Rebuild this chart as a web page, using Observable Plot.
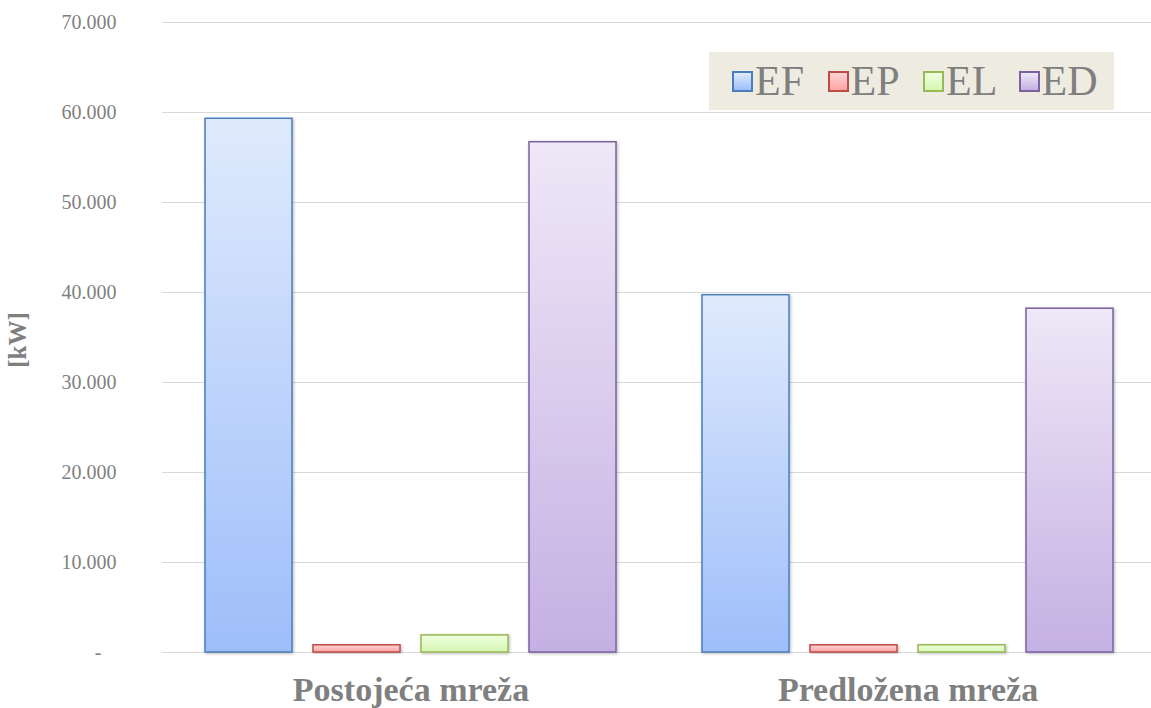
<!DOCTYPE html>
<html>
<head>
<meta charset="utf-8">
<script src="https://cdn.jsdelivr.net/npm/d3@7"></script>
<script src="https://cdn.jsdelivr.net/npm/@observablehq/plot@0.6"></script>
<style>
  html, body { margin: 0; padding: 0; background: #fff; overflow: hidden; }
  #wrap { position: relative; width: 1151px; height: 708px; font-family: "Liberation Serif", "Times New Roman", serif; }
  #ylabel { position: absolute; left: 18px; top: 340px; transform: translate(-50%, -50%) rotate(-90deg);
            font-weight: bold; font-size: 25px; color: #7f7f7f; white-space: nowrap; }
  #legend { position: absolute; left: 709px; top: 52px; width: 405px; height: 58px; background: #eeece1;
            display: flex; align-items: center; box-sizing: border-box; padding-left: 23px; }
  .item { width: 97px; display: flex; align-items: center; font-size: 42px; line-height: 42px; color: #7f7f7f; }
  .sw { width: 21px; height: 21px; box-sizing: border-box; border: 2px solid; margin-right: 2px; flex: none; }
</style>
</head>
<body>
<div id="wrap"></div>
<script>
// ---- data ----
const groups = ["Postojeća mreža", "Predložena mreža"];
const series = ["EF", "EP", "EL", "ED"];
const EF = [59300, 39700];
const EP = [800, 800];
const EL = [1900, 800];
const ED = [56700, 38200];
const yTicks = [0, 10000, 20000, 30000, 40000, 50000, 60000, 70000];

// ---- styles ----
const strokes = { EF: "#4a7ebb", EP: "#be4b48", EL: "#98b954", ED: "#7d60a0" };
const grads = {
  EF: ["#e0eafc", "#9ebefa"],
  EP: ["#ffd3d3", "#ffa4a4"],
  EL: ["#f0ffdf", "#d6f7b2"],
  ED: ["#eee8f7", "#c5b0e3"]
};

const valuesBySeries = { EF, EP, EL, ED };
const rows = [];
series.forEach(s => groups.forEach((g, i) => rows.push({ group: g, series: s, value: valuesBySeries[s][i] })));

const fmt = d => d === 0 ? "-\u2007\u00a0" : d3.format(",")(d).replace(/,/g, ".");

const chart = Plot.plot({
  width: 1151,
  height: 708,
  marginLeft: 162,
  marginRight: 0,
  marginTop: 22,
  marginBottom: 56,
  style: { fontFamily: "Liberation Serif, Times New Roman, serif", fontSize: "20px", color: "#7f7f7f", background: "#fff" },
  fx: { domain: groups, padding: 0, insetRight: -5, axis: null, label: null },
  x: { domain: series, paddingInner: 0.19, paddingOuter: 0.394, axis: null },
  y: { domain: [0, 70000], ticks: yTicks, tickFormat: fmt, tickSize: 0, tickPadding: 46, label: null },
  marks: [
    Plot.ruleY(yTicks, { stroke: "#d9d9d9", strokeWidth: 1.2 }),
    ...series.map(s => Plot.barY(rows.filter(r => r.series === s), {
      fx: "group", x: "series", y: "value",
      fill: `url(#grad-${s})`, stroke: strokes[s], strokeWidth: 1.5
    })),
    Plot.text(groups, {
      fx: d => d, text: d => d, frameAnchor: "bottom", lineAnchor: "top", dy: 24,
      fontSize: 34, fontWeight: "bold", fill: "#7f7f7f"
    })
  ]
});

// gradient + shadow definitions
const svg = d3.select(chart);
const defs = svg.insert("defs", ":first-child");
series.forEach(s => {
  const lg = defs.append("linearGradient").attr("id", `grad-${s}`)
    .attr("x1", 0).attr("y1", 0).attr("x2", 0).attr("y2", 1);
  lg.append("stop").attr("offset", "0%").attr("stop-color", grads[s][0]);
  lg.append("stop").attr("offset", "100%").attr("stop-color", grads[s][1]);
});
const f = defs.append("filter").attr("id", "shadow").attr("x", "-10%").attr("y", "-10%").attr("width", "130%").attr("height", "130%");
f.append("feDropShadow").attr("dx", 1).attr("dy", 1).attr("stdDeviation", 1.6).attr("flood-color", "#000").attr("flood-opacity", 0.28);
svg.selectAll('g[aria-label="bar"]').attr("filter", "url(#shadow)");

const wrap = document.getElementById("wrap");
wrap.appendChild(chart);

const yl = document.createElement("div");
yl.id = "ylabel";
yl.textContent = "[kW]";
wrap.appendChild(yl);

const legend = document.createElement("div");
legend.id = "legend";
series.forEach(s => {
  const it = document.createElement("div");
  it.className = "item";
  const sw = document.createElement("span");
  sw.className = "sw";
  sw.style.borderColor = strokes[s];
  sw.style.background = `linear-gradient(${grads[s][0]}, ${grads[s][1]})`;
  const t = document.createElement("span");
  t.textContent = s;
  it.appendChild(sw);
  it.appendChild(t);
  legend.appendChild(it);
});
wrap.appendChild(legend);
</script>
</body>
</html>
